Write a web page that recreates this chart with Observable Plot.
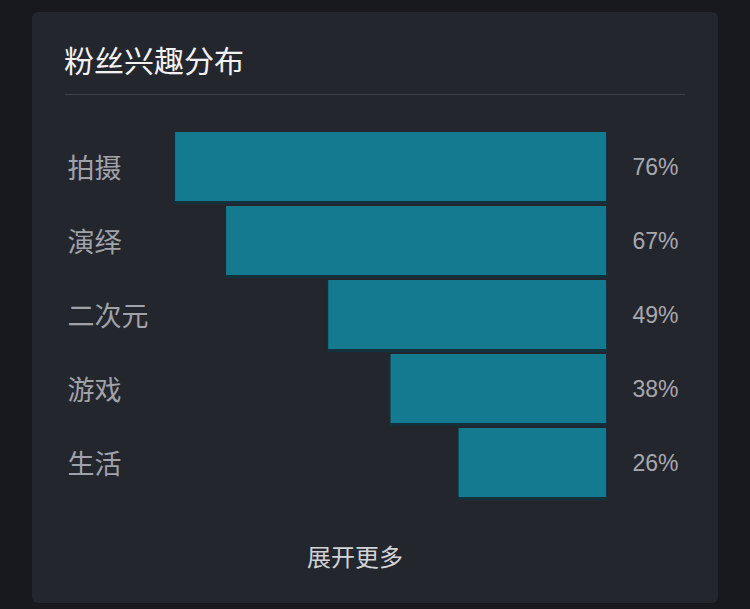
<!DOCTYPE html>
<html>
<head>
<meta charset="utf-8">
<script src="https://cdn.jsdelivr.net/npm/d3@7"></script>
<script src="https://cdn.jsdelivr.net/npm/@observablehq/plot@0.6"></script>
<style>
  html, body { margin: 0; padding: 0; background: #17191f; }
  #wrap { position: relative; width: 750px; height: 609px; overflow: hidden; background: #17191f; }
  #card { position: absolute; left: 32px; top: 12px; width: 686px; height: 591px; background: #24262e; border-radius: 6px; }
  #title { position: absolute; left: 64px; top: 43px; height: 32px; line-height: 32px; font-family: "Noto Sans CJK SC", sans-serif; font-size: 30px; color: #f2f2f2; white-space: nowrap; }
  #divider { position: absolute; left: 65px; top: 94px; width: 620px; height: 1px; background: #3e4049; }
  #more { position: absolute; left: 255px; width: 200px; top: 542px; height: 28px; line-height: 28px; text-align: center; font-family: "Noto Sans CJK SC", sans-serif; font-size: 24px; color: #d2d3d7; }
  #plot { position: absolute; left: 0; top: 0; }
</style>
</head>
<body>
<div id="wrap">
  <div id="card"></div>
  <div id="title"></div>
  <div id="divider"></div>
  <div id="plot"></div>
  <div id="more"></div>
</div>
<script>
const titleText = "粉丝兴趣分布";
const moreText = "展开更多";
const categories = ["拍摄", "演绎", "二次元", "游戏", "生活"];
const values = [76, 67, 49, 38, 26];

document.getElementById("title").textContent = titleText;
document.getElementById("more").textContent = moreText;

const data = categories.map((c, i) => ({category: c, value: values[i]}));

const chart = Plot.plot({
  width: 750,
  height: 609,
  margin: 0,
  style: {background: "transparent", overflow: "visible"},
  x: {domain: [0, 100], range: [606, 39], axis: null},
  y: {domain: categories, range: [129.5, 499.5], paddingInner: 0.0676, paddingOuter: 0.0338, axis: null},
  marks: [
    Plot.barX(data, {y: "category", x1: 0, x2: "value", fill: "#13313c", dy: 3, insetLeft: -1, insetRight: -1}),
    Plot.barX(data, {y: "category", x1: 0, x2: "value", fill: "#147a8f"}),
    Plot.text(data, {y: "category", text: "category", frameAnchor: "left", dx: 67, dy: 2, textAnchor: "start",
      fill: "#a0a2a9", fontSize: 27, fontFamily: "Noto Sans CJK SC, sans-serif"}),
    Plot.text(data, {y: "category", x: () => 0, text: d => d.value + "%", dx: 26, dy: 1, textAnchor: "start",
      fill: "#a6a8ae", fontSize: 23, fontFamily: "Liberation Sans, Helvetica, Arial, sans-serif"})
  ]
});
document.getElementById("plot").appendChild(chart);
</script>
</body>
</html>
